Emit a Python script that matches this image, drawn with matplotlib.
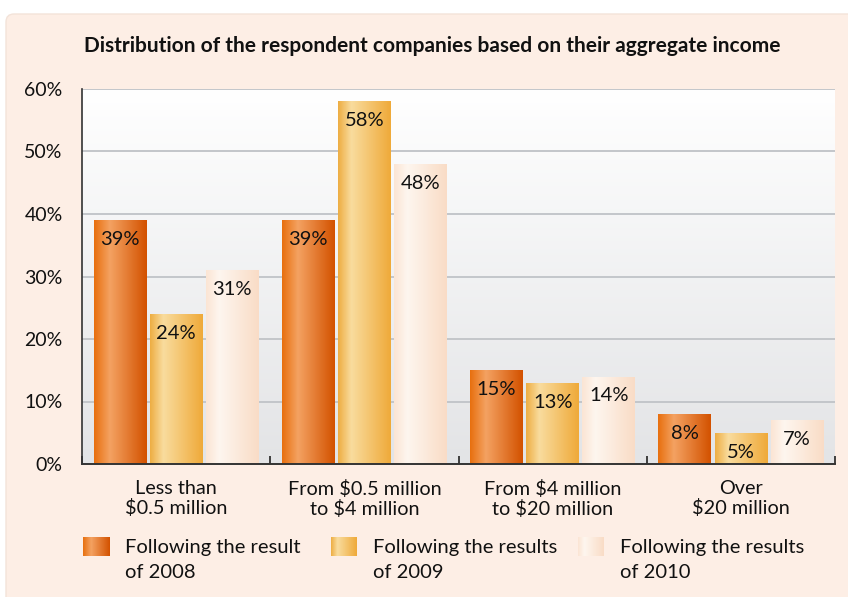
import numpy as np
import matplotlib
matplotlib.use('Agg')
import matplotlib.pyplot as plt
from matplotlib.patches import FancyBboxPatch
from matplotlib.colors import to_rgb

plt.rcParams['font.family'] = ['Lato', 'DejaVu Sans']

# ---------------------------
#  Data
# ---------------------------
categories = ['Less than\n$0.5 million', 'From $0.5 million\nto $4 million',
              'From $4 million\nto $20 million', 'Over\n$20 million']
series_names = ['Following the result\nof 2008', 'Following the results\nof 2009',
                'Following the results\nof 2010']
vals_2008 = [39, 39, 15, 8]
vals_2009 = [24, 58, 13, 5]
vals_2010 = [31, 48, 14, 7]
yticks = [0, 10, 20, 30, 40, 50, 60]

# gradient stops (position, colour) left -> right for each series
stops = [
    [(0.0, '#e8700f'), (0.3, '#f4a262'), (1.0, '#d35200')],
    [(0.0, '#eeae44'), (0.25, '#f9dc9e'), (1.0, '#efaa3a')],
    [(0.0, '#fbe5d4'), (0.25, '#fef6ef'), (1.0, '#f9dcc6')],
]


def grad_img(st, n=64):
    pos = np.array([s[0] for s in st])
    cols = np.array([to_rgb(s[1]) for s in st])
    x = np.linspace(0, 1, n)
    rgb = np.stack([np.interp(x, pos, cols[:, k]) for k in range(3)], axis=-1)
    return rgb[np.newaxis, :, :]


W, H = 848, 597
fig = plt.figure(figsize=(W / 100, H / 100), dpi=100)
fig.patch.set_facecolor('white')

# peach card behind everything
bg = fig.add_axes([0, 0, 1, 1], zorder=-10)
bg.set_xlim(0, W)
bg.set_ylim(H, 0)
bg.axis('off')
bg.add_patch(FancyBboxPatch((6, 14), W + 20, H, boxstyle='round,pad=0,rounding_size=8',
                            fc='#fdeee5', ec='#f3e3d9', lw=1))

fig.text(432 / W, 1 - 46 / H, 'Distribution of the respondent companies based on their aggregate income',
         ha='center', va='center', fontsize=15, fontweight='bold', color='#111111')

ax = fig.add_axes([82 / W, (H - 464) / H, (835 - 82) / W, (464 - 89) / H])
ax.set_xlim(-0.5, len(categories) - 0.5)
ax.set_ylim(0, 60)

# plot area vertical gradient (grey at top -> white at bottom)
g = np.linspace(0, 1, 128)[:, None]
top_c = np.array(to_rgb('#e3e4e6'))
bot_c = np.array([1.0, 1.0, 1.0])
area = top_c + (bot_c - top_c) * g
ax.imshow(np.repeat(area[:, None, :], 2, axis=1), extent=[-0.5, 3.5, 60, 0],
          aspect='auto', zorder=0)

for yv in yticks[1:]:
    ax.axhline(yv, color='#c3c6ca', lw=1.4, zorder=1)

x = np.arange(len(categories))
width = 0.28
offset = 0.298
all_vals = [vals_2008, vals_2009, vals_2010]
for i, vals in enumerate(all_vals):
    xs = x + (i - 1) * offset
    bars = ax.bar(xs, vals, width=width, color='none', zorder=3)
    img = grad_img(stops[i])
    for b, v in zip(bars, vals):
        im = ax.imshow(img, extent=[b.get_x(), b.get_x() + b.get_width(), 0, b.get_height()],
                       aspect='auto', zorder=2, interpolation='bilinear')
        im.set_clip_path(b)
        ax.annotate(f'{v}%', (b.get_x() + b.get_width() / 2, v), xytext=(0, -14),
                    textcoords='offset points', ha='center', va='center',
                    fontsize=14.5, color='#111111', zorder=4)

ax.set_xlim(-0.5, len(categories) - 0.5)
ax.set_ylim(0, 60)

ax.set_yticks(yticks)
ax.set_yticklabels([f'{v}%' for v in yticks], fontsize=14, color='#111111')
ax.tick_params(axis='y', length=0, pad=14)

ax.set_xticks(np.arange(len(categories) + 1) - 0.5)
ax.set_xticklabels([])
ax.tick_params(axis='x', direction='in', length=6, width=1.2, color='#222222')

for c, lab in zip(x, categories):
    ax.text(c, -2.5, lab, ha='center', va='top', fontsize=14.3, color='#111111',
            linespacing=1.18, transform=ax.transData)

for s in ['top', 'right']:
    ax.spines[s].set_visible(False)
ax.spines['left'].set_color('#333333')
ax.spines['left'].set_linewidth(1.2)
ax.spines['bottom'].set_color('#333333')
ax.spines['bottom'].set_linewidth(1.4)

# legend with gradient swatches, two text lines each
leg_sw_x = [83, 331, 578]
for i, name in enumerate(series_names):
    sw = fig.add_axes([leg_sw_x[i] / W, 1 - 556 / H, 26 / W, 19 / H])
    sw.imshow(grad_img(stops[i]), aspect='auto', extent=[0, 1, 0, 1], interpolation='bilinear')
    sw.axis('off')
    for k, line in enumerate(name.split('\n')):
        fig.text((leg_sw_x[i] + 42) / W, 1 - (553 + 25 * k) / H, line, ha='left',
                 va='baseline', fontsize=14.5, color='#111111')

fig.savefig('out.png', dpi=100)
